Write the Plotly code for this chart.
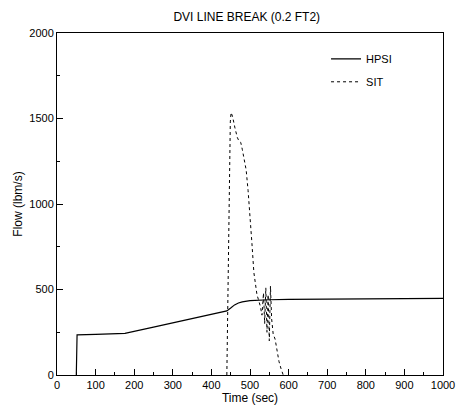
import plotly.graph_objects as go

# HPSI flow (lbm/s)
hpsi_time = [50, 52, 100, 176, 250, 300, 350, 400, 440, 450, 460, 470, 480, 500, 520, 550, 600, 700, 800, 900, 1000]
hpsi_flow = [0, 235, 238, 243, 280, 305, 330, 355, 375, 392, 410, 421, 428, 435, 438, 440, 442, 443, 444, 446, 448]

# SIT flow (lbm/s)
sit_time = [440, 443, 446, 449, 451, 455, 461, 467, 472, 476, 480, 484, 490, 495, 500, 505, 510, 514,
            518, 522, 527, 531, 535, 538, 541, 544, 547, 550, 553, 556, 560, 565, 570, 575, 580, 586]
sit_flow = [0, 600, 1200, 1480, 1535, 1510, 1445, 1390, 1365, 1360, 1320, 1270, 1200, 1080, 940, 770, 600, 540,
            470, 440, 400, 350, 480, 300, 510, 250, 470, 200, 520, 330, 240, 210, 130, 80, 40, 0]

fig = go.Figure()
fig.add_trace(go.Scatter(x=hpsi_time, y=hpsi_flow, mode="lines", name="HPSI", legendgroup="a",
                         line=dict(color="black", width=1.2)))
fig.add_trace(go.Scatter(x=sit_time, y=sit_flow, mode="lines", name="SIT", legendgroup="b",
                         line=dict(color="black", width=1, dash="dot")))

axis_font = dict(family="Liberation Sans, Arial, sans-serif", size=11, color="black")
fig.update_layout(
    width=457, height=414,
    margin=dict(l=57, r=14, t=33, b=39),
    paper_bgcolor="white", plot_bgcolor="white",
    font=dict(family="Liberation Sans, Arial, sans-serif", size=11, color="black"),
    title=dict(text="DVI LINE BREAK (0.2 FT2)", x=0.540, xanchor="center", y=0.959, yanchor="middle",
               font=dict(size=12, color="black"), automargin=False),
    showlegend=True,
    legend=dict(x=0.697, y=0.967, xanchor="left", yanchor="top", bgcolor="rgba(0,0,0,0)",
                font=dict(size=11), tracegroupgap=4, itemwidth=30),
    xaxis=dict(range=[0, 1000], dtick=100, tick0=0, showgrid=False, zeroline=False,
               showline=True, linecolor="black", linewidth=1, mirror=True, automargin=False,
               ticks="inside", ticklen=6, tickcolor="black",
               minor=dict(ticks="inside", dtick=50, ticklen=3, tickcolor="black"),
               title=dict(text="Time (sec)", font=dict(size=12), standoff=2),
               tickfont=axis_font),
    yaxis=dict(range=[0, 2000], dtick=500, tick0=0, showgrid=False, zeroline=False,
               showline=True, linecolor="black", linewidth=1, mirror=True, automargin=False,
               ticks="inside", ticklen=6, tickcolor="black",
               minor=dict(ticks="inside", dtick=250, ticklen=3, tickcolor="black"),
               title=dict(text="Flow (lbm/s)", font=dict(size=12), standoff=4),
               tickfont=axis_font),
)

fig.write_html("out.html", config={"displayModeBar": False},
               post_script="document.body.style.margin='0';document.body.style.overflow='hidden';")
